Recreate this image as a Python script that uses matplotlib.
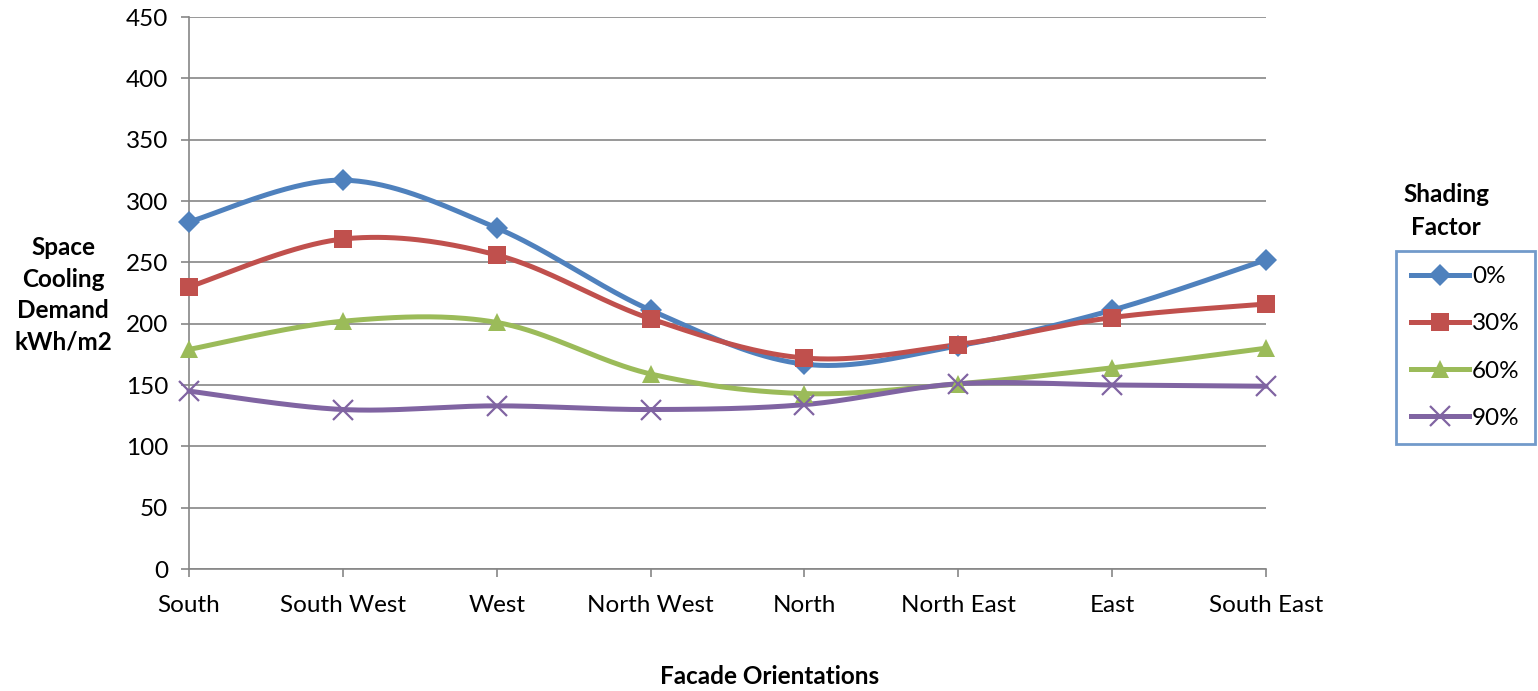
import numpy as np
import matplotlib
matplotlib.use("Agg")
import matplotlib.pyplot as plt

plt.rcParams['font.family'] = ['Lato', 'DejaVu Sans']

orientations = ["South", "South West", "West", "North West", "North",
                "North East", "East", "South East"]
shading_labels = ["0%", "30%", "60%", "90%"]
sf_0 = [283, 317, 278, 211, 167, 182, 211, 252]
sf_30 = [230, 269, 256, 204, 172, 183, 205, 216]
sf_60 = [179, 202, 201, 159, 143, 151, 164, 180]
sf_90 = [145, 130, 133, 130, 134, 151, 150, 149]
y_ticks = [0, 50, 100, 150, 200, 250, 300, 350, 400, 450]

colors = ["#4F81BD", "#C0504D", "#9BBB59", "#8064A2"]
markers = ["D", "s", "^", "x"]
msizes = [11, 13, 13, 14]


def smooth(xs, ys, n=40):
    """Catmull-Rom style Bezier smoothing through every point."""
    xs = np.asarray(xs, float)
    ys = np.asarray(ys, float)
    px = np.concatenate([[xs[0]], xs, [xs[-1]]])
    py = np.concatenate([[ys[0]], ys, [ys[-1]]])
    outx, outy = [], []
    t = np.linspace(0, 1, n)
    for i in range(1, len(px) - 2):
        p0 = np.array([px[i - 1], py[i - 1]])
        p1 = np.array([px[i], py[i]])
        p2 = np.array([px[i + 1], py[i + 1]])
        p3 = np.array([px[i + 2], py[i + 2]])
        c1 = p1 + (p2 - p0) / 6
        c2 = p2 - (p3 - p1) / 6
        b = ((1 - t) ** 3)[:, None] * p1 + (3 * (1 - t) ** 2 * t)[:, None] * c1 \
            + (3 * (1 - t) * t ** 2)[:, None] * c2 + (t ** 3)[:, None] * p2
        outx.extend(b[:, 0])
        outy.extend(b[:, 1])
    return np.array(outx), np.array(outy)


fig = plt.figure(figsize=(15.38, 6.91), dpi=100)
ax = fig.add_axes([189 / 1538, 1 - 569 / 691, (1266 - 189) / 1538, (569 - 17) / 691])

x = np.arange(len(orientations))
series = [sf_0, sf_30, sf_60, sf_90]
handles = []
for vals, c, m, ms, lab in zip(series, colors, markers, msizes, shading_labels):
    sx, sy = smooth(x, vals)
    ax.plot(sx, sy, color=c, lw=3.6, solid_capstyle='round', zorder=3, clip_on=False)
    mew = 1.6 if m == "x" else 0
    ax.plot(x, vals, linestyle='none', marker=m, ms=ms, color=c, mec=c,
            mew=mew, zorder=4, clip_on=False)
    h, = ax.plot([], [], color=c, lw=3.6, marker=m, ms=ms, mec=c, mew=mew, label=lab)
    handles.append(h)

ax.set_xlim(0, 7)
ax.set_ylim(0, 450)
ax.set_yticks(y_ticks)
ax.set_xticks(x)
ax.set_xticklabels(orientations)
ax.yaxis.grid(True, color="#868686", lw=1.2)
ax.set_axisbelow(True)
for s in ["top", "right"]:
    ax.spines[s].set_visible(False)
for s in ["left", "bottom"]:
    ax.spines[s].set_color("#868686")
    ax.spines[s].set_linewidth(1.2)
ax.tick_params(axis='both', colors="#868686", length=6, width=1.2,
               labelsize=17.5, labelcolor="black")
ax.tick_params(axis='x', pad=13)
ax.tick_params(axis='y', pad=9)

fig.text(63 / 1538, 1 - 295 / 691, "Space\nCooling\nDemand\nkWh/m2", ha='center',
         va='center', fontsize=17.5, fontweight='bold', linespacing=1.45)
fig.text(770 / 1538, 1 - 676 / 691, "Facade Orientations", ha='center', va='center',
         fontsize=17.5, fontweight='bold')
fig.text(1446 / 1538, 1 - 211 / 691, "Shading\nFactor", ha='center', va='center',
         fontsize=17.5, fontweight='bold', linespacing=1.5)

leg = fig.legend(handles=handles, loc='upper left',
                 bbox_to_anchor=(1396 / 1538, 1 - 251 / 691),
                 fontsize=17.5, frameon=True, fancybox=False, handlelength=2.4,
                 handletextpad=0.1, labelspacing=1.08, borderpad=0.62,
                 borderaxespad=0)
leg.get_frame().set_edgecolor("#4F81BD")
leg.get_frame().set_linewidth(2)

fig.savefig("out.png", dpi=100)
